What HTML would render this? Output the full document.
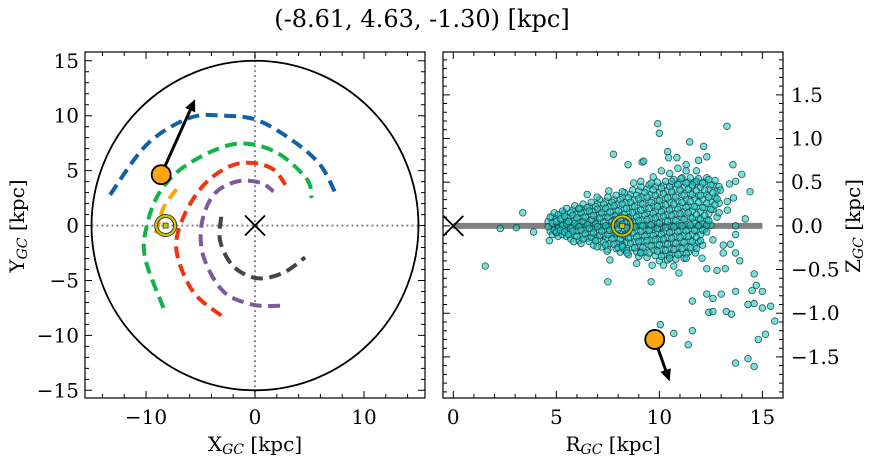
<!DOCTYPE html>
<html><head><meta charset="utf-8">
<style>
body{margin:0;background:#fff;}
svg{display:block;font-family:"DejaVu Serif","Liberation Serif",serif;}
</style></head>
<body>
<svg id="fig" width="874" height="464" viewBox="0 0 874 464" xmlns="http://www.w3.org/2000/svg">
<text x="422" y="27" font-size="24" text-anchor="middle">(-8.61, 4.63, -1.30) [kpc]</text>
<g id="left"></g>
<g id="right"></g>
<text x="255" y="451" font-size="20" text-anchor="middle">X<tspan font-size="14" font-style="italic" dy="3">GC</tspan><tspan dy="-3"> [kpc]</tspan></text>
<text x="613" y="451" font-size="20" text-anchor="middle">R<tspan font-size="14" font-style="italic" dy="3">GC</tspan><tspan dy="-3"> [kpc]</tspan></text>
<text transform="translate(24,226) rotate(-90)" font-size="20" text-anchor="middle">Y<tspan font-size="14" font-style="italic" dy="3">GC</tspan><tspan dy="-3"> [kpc]</tspan></text>
<text transform="translate(860,226) rotate(-90)" font-size="20" text-anchor="middle">Z<tspan font-size="14" font-style="italic" dy="3">GC</tspan><tspan dy="-3"> [kpc]</tspan></text>
</svg>
<script>
// ---- data ----
const orbitBlue=[[-13.3,2.8],[-9.9,7.4],[-6.0,9.8],[-2.9,10.0],[0.2,9.6],[3.5,7.7],[6.0,5.5],[7.5,2.7]];
const orbitGreen=[[-8.4,-7.5],[-10.1,-2.9],[-9.9,0.1],[-8.7,3.1],[-6.3,5.5],[-2.0,7.4],[1.7,6.8],[4.7,4.3],[5.2,2.5]];
const orbitRed=[[-3.1,-8.2],[-5.7,-6.0],[-7.2,-2.3],[-6.6,0.7],[-4.7,3.7],[-2.3,5.4],[-0.2,5.7],[1.7,5.1],[2.8,3.7]];
const orbitPurple=[[2.3,-7.3],[-0.2,-7.2],[-2.9,-6.0],[-4.7,-2.9],[-4.9,0.1],[-3.8,2.8],[-1.7,4.0],[0.5,3.9],[1.7,3.1]];
const orbitGray=[[-3.1,0.8],[-3.2,-1.4],[-2.0,-3.7],[0.2,-4.8],[2.6,-4.3],[4.6,-2.9]];
const orbitOrange=[[-7.2,3.3],[-8.4,1.6],[-9.2,-1.1]];
const star=[-8.61,4.63,-1.30];
const starArrowXY=[-5.5,11.5];
const starArrowRZ=[10.5,-1.78];
const sun=[-8.2,0,0.0];
const xTicksL=[-10,0,10], yTicksL=[-15,-10,-5,0,5,10,15];
const xTicksR=[0,5,10,15], yTicksR=[-1.5,-1.0,-0.5,0.0,0.5,1.0,1.5];
const outR=[1.55,2.28,3.06,3.37,3.9,4.66,7.77,8.48,9.16,9.92,10.0,11.47,12.15,13.28,13.57,14.0,14.4,14.17,13.7,7.5,9.6,10.05,10.7,11.4,11.6,11.6,12.3,12.4,12.6,12.6,13.0,13.25,13.5,13.7,13.7,14.3,14.6,14.8,15.15,15.6,15.4,15.0,14.6,14.3,14.5,15.0,14.7,14.6,13.9,13.7,13.7,13.2,12.8,12.3,13.1,13.1,13.45,13.3,13.3,13.6,13.4,13.7,12.96,12.4,12.3,11.9,11.8,11.3,11.3,10.9,10.85,10.4,10.45,10.1,10.5,11.05,11.8,11.6,10.6,9.7,9.6,9.1,8.75,9.24,8.2,7.55,6.98,6.5,6.1,7.6,8.2,8.9,9.65,10.2,10.7,10.95,10.5,11.3,11.75,12.07,12.6,12.3,11.8,9.1,8.43,7.46,6.98,5.84];
const outZ=[-0.46,-0.03,-0.02,0.15,-0.07,-0.17,0.82,0.70,0.73,1.17,1.06,0.96,0.91,1.14,0.70,0.59,0.39,0.08,0.0,-0.64,-0.64,-1.13,-1.23,-1.36,-1.20,-0.86,-0.78,-0.99,-0.98,-0.83,-0.78,-0.98,-1.01,-0.75,-1.57,-1.52,-1.61,-1.30,-1.24,-1.09,-0.92,-0.94,-0.89,-0.90,-0.74,-0.75,-0.68,-0.55,-0.40,-0.31,-0.10,-0.49,-0.51,-0.49,-0.31,-0.22,-0.21,0.18,0.28,0.32,0.48,0.51,0.41,0.53,0.79,0.75,0.63,0.70,0.63,0.66,0.78,0.85,0.78,0.63,0.60,0.54,0.51,0.47,0.51,0.56,0.49,0.51,0.49,0.74,0.39,0.40,0.33,0.36,0.20,-0.39,-0.24,-0.43,-0.45,-0.45,-0.46,-0.54,-0.37,-0.37,-0.31,-0.37,-0.16,-0.07,-0.26,-0.31,-0.31,-0.29,-0.24,-0.18];
const coreR=[4.6,4.8,5.0,5.2,5.4,5.6,5.8,6.0,6.2,6.4,6.6,6.8,7.0,7.2,7.4,7.6,7.8,8.0,8.2,8.4,8.6,8.8,9.0,9.2,9.4,9.6,9.8,10.0,10.2,10.4,10.6,10.8,11.0,11.2,11.4,11.6,11.8,12.0,12.2,12.4,12.6,12.8];
const coreZ=[[0.05,-0.06],[0.1,-0.02,-0.1],[0.08,0.0,-0.08,-0.12],[0.12,0.03,-0.05,-0.1],[0.15,0.06,-0.03,-0.12],[0.1,0.0,-0.08,-0.15],[0.18,0.07,-0.02,-0.11],[0.14,0.04,-0.06,-0.17],[0.2,0.1,0.0,-0.1,-0.2],[0.16,0.05,-0.04,-0.14],[0.22,0.12,0.02,-0.08,-0.18],[0.17,0.07,-0.03,-0.13,-0.22],[0.25,0.14,0.04,-0.06,-0.16],[0.2,0.1,-0.01,-0.11,-0.24],[0.28,0.15,0.05,-0.05,-0.15,-0.27],[0.22,0.11,0.0,-0.1,-0.2],[0.3,0.18,0.07,-0.04,-0.14,-0.26],[0.25,0.12,0.02,-0.09,-0.2,-0.3],[0.33,0.2,0.08,-0.03,-0.16,-0.27],[0.27,0.15,0.04,-0.07,-0.19,-0.33],[0.36,0.22,0.1,-0.01,-0.13,-0.25],[0.3,0.17,0.05,-0.06,-0.18,-0.3],[0.4,0.26,0.13,0.01,-0.11,-0.23,-0.35],[0.33,0.2,0.07,-0.05,-0.17,-0.3],[0.42,0.28,0.15,0.02,-0.1,-0.22,-0.36],[0.36,0.22,0.09,-0.04,-0.16,-0.28],[0.45,0.3,0.17,0.04,-0.08,-0.21,-0.34],[0.38,0.24,0.11,-0.02,-0.15,-0.27,-0.4],[0.46,0.32,0.19,0.06,-0.07,-0.2,-0.33],[0.4,0.27,0.13,0.0,-0.13,-0.26,-0.39],[0.48,0.34,0.2,0.07,-0.06,-0.19,-0.32],[0.42,0.28,0.14,0.01,-0.12,-0.25,-0.38],[0.5,0.36,0.22,0.09,-0.05,-0.18,-0.31],[0.44,0.3,0.16,0.02,-0.11,-0.24,-0.37],[0.5,0.37,0.23,0.1,-0.04,-0.17,-0.3],[0.45,0.31,0.17,0.04,-0.1,-0.23],[0.49,0.35,0.22,0.08,-0.05,-0.18],[0.44,0.3,0.16,0.03,-0.1,-0.22],[0.5,0.36,0.21,0.07,-0.04],[0.42,0.28,0.14,0.01],[0.47,0.33,0.19],[0.4,0.26,0.1]];

// ---- axes ----
const NS="http://www.w3.org/2000/svg";
const L={x0:85,x1:425,y0:52,y1:398,xmin:-15.6,xmax:15.6,ymin:-15.7,ymax:15.8};
const R={x0:443,x1:783,y0:52,y1:398,xmin:-0.5,xmax:16.0,ymin:-1.97,ymax:1.99};
const sx=(A,v)=>A.x0+(v-A.xmin)/(A.xmax-A.xmin)*(A.x1-A.x0);
const sy=(A,v)=>A.y1-(v-A.ymin)/(A.ymax-A.ymin)*(A.y1-A.y0);
function mk(parent,tag,attrs){const e=document.createElementNS(NS,tag);for(const k in attrs)e.setAttribute(k,attrs[k]);parent.appendChild(e);return e;}
const gL=document.getElementById('left'), gR=document.getElementById('right');

function frame(g,A,xt,xminor,yt,yminor,ylabSide,fmt){
  let f=mk(g,'rect',{x:A.x0,y:A.y0,width:A.x1-A.x0,height:A.y1-A.y0,fill:'none',stroke:'#000','stroke-width':1.2});
  
  
  let d='';
  for(let v=Math.ceil(A.xmin/xminor)*xminor;v<=A.xmax;v+=xminor){const x=sx(A,v);const maj=xt.some(t=>Math.abs(t-v)<1e-6);const l=maj?7:4;d+=`M${x},${A.y1}v${-l}M${x},${A.y0}v${l}`;}
  for(let v=Math.ceil(A.ymin/yminor)*yminor;v<=A.ymax;v+=yminor){const y=sy(A,v);const maj=yt.some(t=>Math.abs(t-v)<1e-6);const l=maj?7:4;d+=`M${A.x0},${y}h${l}M${A.x1},${y}h${-l}`;}
  let t=mk(g,'path',{d:d,stroke:'#000','stroke-width':1,fill:'none'});
  
  
  xt.forEach(v=>{let e=mk(g,'text',{x:sx(A,v),y:A.y1+26,'font-size':20,'text-anchor':'middle'});e.textContent=String(v).replace('-','\u2212');
    
    });
  yt.forEach(v=>{let e=mk(g,'text',ylabSide==='left'?{x:A.x0-6,y:sy(A,v)+7,'font-size':20,'text-anchor':'end'}:{x:A.x1+8,y:sy(A,v)+7,'font-size':20,'text-anchor':'start'});e.textContent=fmt(v).replace('-','\u2212');
    
    });
}

// ---- left panel ----
let dl=mk(gL,'path',{d:`M${sx(L,-15)},${sy(L,0)}H${sx(L,15)}M${sx(L,0)},${sy(L,15.5)}V${sy(L,-15.5)}`,stroke:'#777','stroke-width':1.8,'stroke-dasharray':'1.8,3.2',fill:'none'});


let circ=mk(gL,'ellipse',{cx:sx(L,0),cy:sy(L,0),rx:sx(L,15)-sx(L,0),ry:sy(L,-15)-sy(L,0),fill:'none',stroke:'#000','stroke-width':1.8});


function curve(pts){let p=pts.map(q=>[sx(L,q[0]),sy(L,q[1])]);let d=`M${p[0][0]},${p[0][1]}`;
  for(let i=0;i<p.length-1;i++){const p0=p[i-1]||p[i],p1=p[i],p2=p[i+1],p3=p[i+2]||p2;
    d+=`C${p1[0]+(p2[0]-p0[0])/6},${p1[1]+(p2[1]-p0[1])/6} ${p2[0]-(p3[0]-p1[0])/6},${p2[1]-(p3[1]-p1[1])/6} ${p2[0]},${p2[1]}`;}return d;}
[[orbitBlue,'#1161a5','orbit-blue'],[orbitGreen,'#11b346','orbit-green'],[orbitRed,'#f2330f','orbit-red'],[orbitPurple,'#7e5a9a','orbit-purple'],[orbitGray,'#454545','orbit-gray'],[orbitOrange,'#ffa500','orbit-orange']].forEach(o=>{
  let e=mk(gL,'path',{d:curve(o[0]),fill:'none',stroke:o[1],'stroke-width':4,'stroke-dasharray':'12,6.5'});
  
  });
function cross(g,x,y,n){let e=mk(g,'path',{d:`M${x-10},${y-10}L${x+10},${y+10}M${x-10},${y+10}L${x+10},${y-10}`,stroke:'#000','stroke-width':1.8});
  
  }
function sunMark(g,x,y){let s=mk(g,'g',{});
  
  
  mk(s,'circle',{cx:x,cy:y,r:11,fill:'none',stroke:'#333','stroke-width':1});
  mk(s,'circle',{cx:x,cy:y,r:9.5,fill:'none',stroke:'#c8c800','stroke-width':2});
  mk(s,'circle',{cx:x,cy:y,r:8,fill:'none',stroke:'#333','stroke-width':1});
  mk(s,'rect',{x:x-2.5,y:y-2.5,width:5,height:5,fill:'#c8c800',stroke:'#333','stroke-width':0.8});}
function arrow(g,x0,y0,x1,y1){const a=Math.atan2(y1-y0,x1-x0),h=12,w=5.5;
  const bx=x1-h*Math.cos(a),by=y1-h*Math.sin(a);
  let e=mk(g,'g',{});
  
  
  mk(e,'line',{x1:x0,y1:y0,x2:bx,y2:by,stroke:'#000','stroke-width':3});
  mk(e,'polygon',{points:`${x1},${y1} ${bx-w*Math.sin(a)},${by+w*Math.cos(a)} ${bx+w*Math.sin(a)},${by-w*Math.cos(a)}`,fill:'#000'});}
function starMark(g,x,y){let e=mk(g,'circle',{cx:x,cy:y,r:9.5,fill:'#ffa514',stroke:'#000','stroke-width':1.8});
  
  }
cross(gL,sx(L,0),sy(L,0),'galactic-center');
sunMark(gL,sx(L,sun[0]),sy(L,sun[1]));
arrow(gL,sx(L,star[0]),sy(L,star[1]),sx(L,starArrowXY[0]),sy(L,starArrowXY[1]));
starMark(gL,sx(L,star[0]),sy(L,star[1]));
frame(gL,L,xTicksL,2,yTicksL,1,'left',v=>String(v));

// ---- right panel ----
let pl=mk(gR,'line',{x1:sx(R,0),y1:sy(R,0),x2:sx(R,15),y2:sy(R,0),stroke:'#808080','stroke-width':6});


const pg=mk(gR,'g',{});


function dot(r,z){let e=mk(pg,'circle',{cx:sx(R,r),cy:sy(R,z),r:3.3,fill:'rgba(30,205,200,0.6)',stroke:'rgba(15,60,60,0.85)','stroke-width':0.8});
  
  }
coreR.forEach((r,i)=>coreZ[i].forEach((z,j)=>dot(r+(j%2?0.1:0),z)));
coreR.forEach((r,i)=>coreZ[i].forEach((z,j)=>dot(r+0.1-(j%2?0.1:0),z+0.05)));
outR.forEach((r,i)=>dot(r,outZ[i]));
cross(gR,sx(R,0),sy(R,0),'galactic-center-rz');
sunMark(gR,sx(R,-sun[0]),sy(R,sun[2]));
const starR=Math.hypot(star[0],star[1]);
arrow(gR,sx(R,starR),sy(R,star[2]),sx(R,starArrowRZ[0]),sy(R,starArrowRZ[1]));
starMark(gR,sx(R,starR),sy(R,star[2]));
frame(gR,R,xTicksR,1,yTicksR,0.1,'right',v=>v.toFixed(1));
</script>
</body></html>
